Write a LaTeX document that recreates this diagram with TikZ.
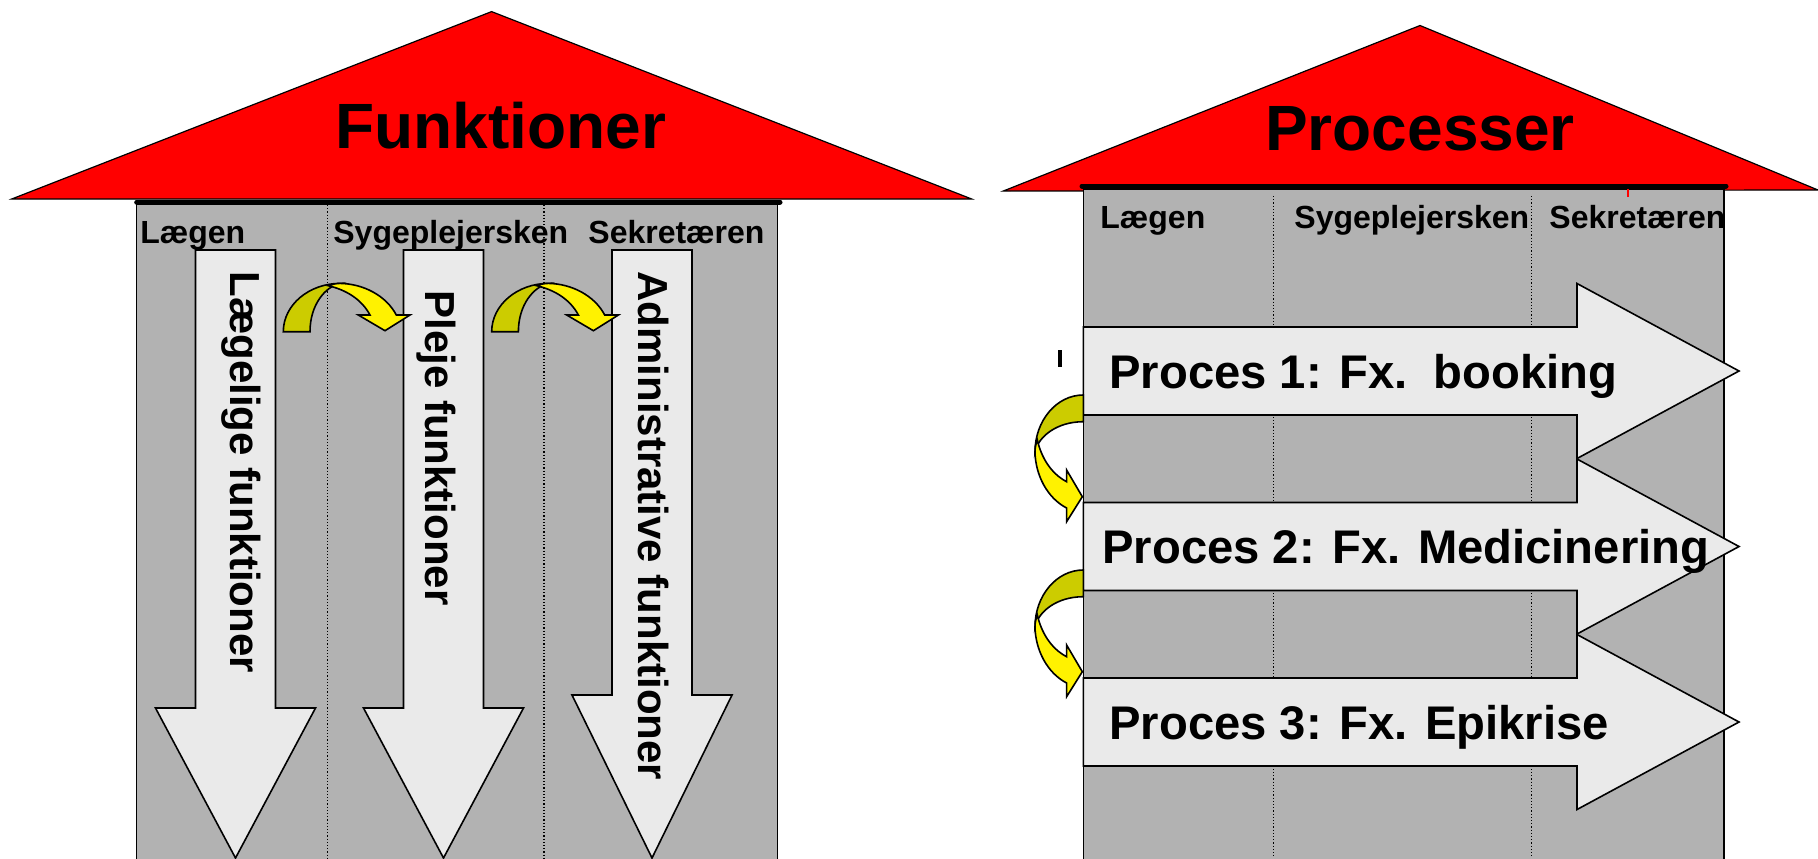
\documentclass[tikz,border=0pt]{standalone}
\usepackage{fontspec}
\setmainfont{Liberation Sans}
\definecolor{wallgray}{RGB}{178,178,178}
\definecolor{flowgray}{RGB}{234,234,234}
\definecolor{turndark}{RGB}{204,204,0}
% curved hand-over arrow, drawn in local pixel units (foot at the origin)
\newcommand{\yellowturn}{%
  \filldraw[turnback] (0,0) .. controls (0,-27) and (26,-48.3) .. (56.7,-48.3)
    .. controls (42,-45) and (26.7,-27) .. (26.7,0) -- cycle;
  \filldraw[turnfront] (56.7,-48.3) .. controls (80,-48) and (103,-36) .. (113,-16.7)
    -- (126.7,-16.7) -- (101.7,-1) -- (75,-16.7) -- (86.7,-16.7)
    .. controls (78,-33) and (62,-42) .. (45,-46)
    .. controls (49,-47.5) and (53,-48.3) .. (56.7,-48.3) -- cycle;
}
\begin{document}
\begin{tikzpicture}[x=0.5pt,y=-0.5pt,
    roof/.style={fill=red,draw=black,line width=0.6pt},
    wall/.style={fill=wallgray,draw=black,line width=0.6pt},
    beam/.style={line width=2.5pt,line cap=round},
    lane/.style={densely dotted,line width=0.6pt},
    flow/.style={fill=flowgray,draw=black,line width=0.8pt},
    turnback/.style={fill=turndark,draw=black,line width=0.8pt},
    turnfront/.style={fill=yellow,draw=black,line width=0.8pt},
    roofword/.style={font=\fontsize{32}{36}\selectfont\bfseries,inner sep=0pt,anchor=base},
    role/.style={font=\fontsize{16}{18}\selectfont\bfseries,inner sep=0pt,anchor=base west},
    flowword/.style={font=\fontsize{21}{24}\selectfont\bfseries,inner sep=0pt,anchor=base west,rotate=-90},
    procword/.style={font=\fontsize{23.6}{28}\selectfont\bfseries,inner sep=0pt,anchor=base west}]
  \useasboundingbox (0,0) rectangle (1818,858);

  % Funktioner
  \filldraw[roof] (11.7,199) -- (491.6,11.6) -- (971.7,199) -- cycle;
  \draw[wall] (136.7,202) rectangle (777.7,870);
  \draw[beam] (136.7,202) -- (780,202);
  \foreach \x in {327.7,544}
    \draw[lane] (\x,205) -- (\x,858);
  \node[roofword] (funk) at (501,148.4) {Funktioner};
  \node[role] (f-laege) at (140,243) {Lægen};
  \node[role] (f-pleje) at (333,243) {Sygeplejersken};
  \node[role] (f-sekr) at (588,243) {Sekretæren};
  \foreach \cx/\hy in {235.5/708,443.5/708,652/695}
    \filldraw[flow] (\cx-40,250) -- (\cx+40,250) -- (\cx+40,\hy) -- (\cx+80,\hy)
      -- (\cx,858) -- (\cx-80,\hy) -- (\cx-40,\hy) -- cycle;
  \node[flowword] (f-laegelig) at (230,271) {Lægelige funktioner};
  \node[flowword] (f-plejefkt) at (425,290) {Pleje funktioner};
  \node[flowword] (f-admin) at (638,271) {Administrative funktioner};
  \begin{scope}[shift={(283.3,331.7)}]
    \yellowturn
  \end{scope}
  \begin{scope}[shift={(491.7,331.7)}]
    \yellowturn
  \end{scope}

  % Processer
  \filldraw[roof] (1003.3,191) -- (1420,25.5) -- (1818,190) -- cycle;
  \draw[wall] (1083.3,189) rectangle (1724,870);
  \draw[beam] (1082,186) -- (1726,186);
  \draw[red,line width=0.6pt] (1628,189) -- (1628,197);
  \foreach \x in {1273.3,1531.5}
    \draw[lane] (\x,196) -- (\x,858);
  \node[roofword] (proc) at (1420,150) {Processer};
  \node[role] (p-laege) at (1100,228) {Lægen};
  \node[role] (p-pleje) at (1294,228) {Sygeplejersken};
  \node[role] (p-sekr) at (1549,228) {Sekretæren};
  \foreach \cy in {371,546.5,722}
    \filldraw[flow] (1083.3,\cy-44) -- (1577,\cy-44) -- (1577,\cy-87.5) -- (1739,\cy)
      -- (1577,\cy+87.5) -- (1577,\cy+44) -- (1083.3,\cy+44) -- cycle;
  \node[procword] (p-one) at (1109,388) {Proces 1: Fx.\ \ booking};
  \node[procword] (p-two) at (1102,563.5) {Proces 2: Fx. Medicinering};
  \node[procword] (p-three) at (1109,739) {Proces 3: Fx. Epikrise};
  \draw[line width=2pt] (1059.5,350) -- (1059.5,367);
  \begin{scope}[shift={(1083.3,395)},cm={0,-1,-1,0,(0,0)}]
    \yellowturn
  \end{scope}
  \begin{scope}[shift={(1083.3,570)},cm={0,-1,-1,0,(0,0)}]
    \yellowturn
  \end{scope}
\end{tikzpicture}
\end{document}
